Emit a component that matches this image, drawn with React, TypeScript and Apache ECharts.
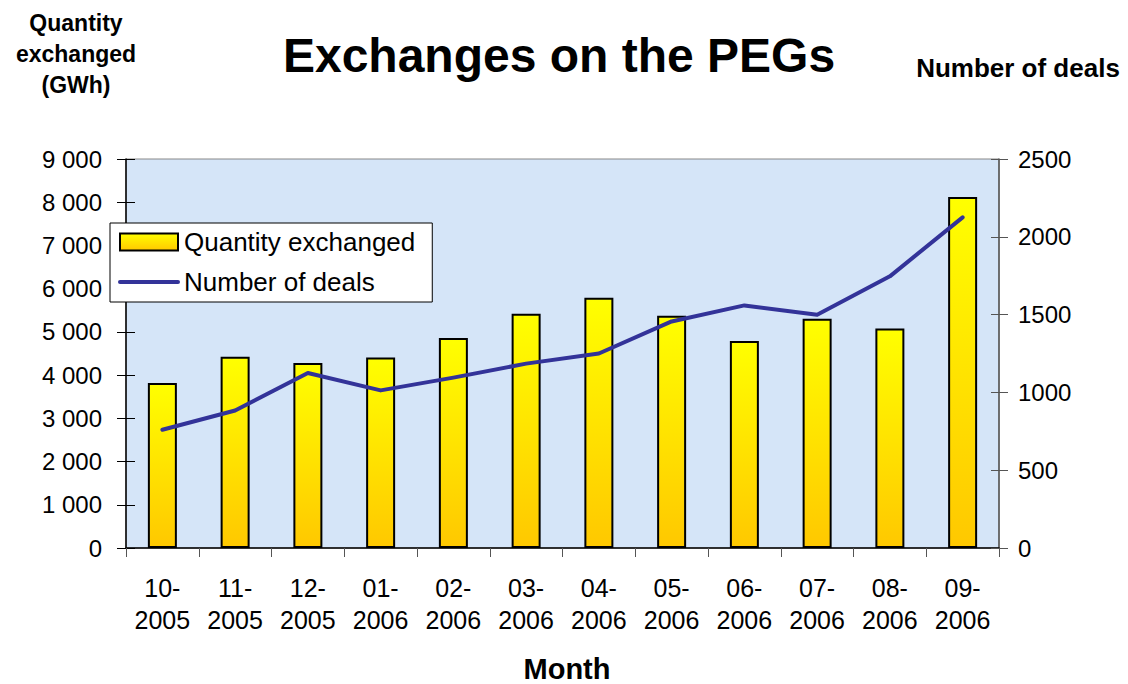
import React, { useEffect, useRef } from "react";
import * as echarts from "echarts";

const months = ["10-\n2005", "11-\n2005", "12-\n2005", "01-\n2006", "02-\n2006", "03-\n2006", "04-\n2006", "05-\n2006", "06-\n2006", "07-\n2006", "08-\n2006", "09-\n2006"];
const quantity = [3820, 4425, 4280, 4405, 4860, 5420, 5790, 5375, 4790, 5305, 5080, 8120];
const deals = [760, 884, 1125, 1013, 1095, 1185, 1250, 1456, 1559, 1499, 1746, 2125];

const FONT = "Liberation Sans, Arial, sans-serif";

const leftFmt = (v: number) => (v >= 1000 ? Math.floor(v / 1000) + " " + String(v % 1000).padStart(3, "0") : String(v));

export default function App() {
  const ref = useRef<HTMLDivElement>(null);
  useEffect(() => {
    const chart = echarts.init(ref.current!, null, { renderer: "svg" });
    chart.setOption({
      animation: false,
      backgroundColor: "#ffffff",
      textStyle: { fontFamily: FONT },
      title: [
        { text: "Exchanges on the PEGs", left: 554, top: 26, textAlign: "center", textStyle: { fontSize: 48, fontWeight: "bold", color: "#000", fontFamily: FONT } },
        { text: "Quantity\nexchanged\n(GWh)", left: 71, top: 2, textAlign: "center", textStyle: { fontSize: 23, fontWeight: "bold", color: "#000", lineHeight: 31, fontFamily: FONT } },
        { text: "Number of deals", left: 1013, top: 50, textAlign: "center", textStyle: { fontSize: 26, fontWeight: "bold", color: "#000", fontFamily: FONT } },
        { text: "Month", left: 562, top: 649, textAlign: "center", textStyle: { fontSize: 29, lineHeight: 30, fontWeight: "bold", color: "#000", fontFamily: FONT } },
      ],
      legend: {
        orient: "vertical",
        left: 110,
        top: 223,
        backgroundColor: "#ffffff",
        borderColor: "#000",
        borderWidth: 1,
        borderRadius: 0,
        padding: [6, 17, 7, 8],
        itemWidth: 58,
        itemHeight: 17,
        itemGap: 14,
        textStyle: { fontSize: 26, color: "#000", fontFamily: FONT, padding: [0, 0, 0, 1] },
        data: [
          { name: "Quantity exchanged", icon: "rect" },
          {
            name: "Number of deals",
            itemStyle: { color: "transparent", borderWidth: 0, opacity: 0 },
            lineStyle: { color: "#333399", width: 4, cap: "round" },
          },
        ],
      },
      grid: {
        left: 126,
        right: 129,
        top: 159,
        bottom: 136,
        show: true,
        backgroundColor: "#d5e5f8",
        borderColor: "#888",
        borderWidth: 1,
      },
      xAxis: {
        type: "category",
        data: months,
        axisLine: { lineStyle: { color: "#000", width: 1.5 } },
        axisTick: { show: true, length: 9, interval: 0, lineStyle: { color: "#555" } },
        axisLabel: { fontSize: 25, color: "#000", lineHeight: 32, margin: 24, interval: 0, fontFamily: FONT },
      },
      yAxis: [
        {
          type: "value",
          min: 0,
          max: 9000,
          interval: 1000,
          axisLine: { show: true, lineStyle: { color: "#000", width: 1.5 } },
          axisTick: { show: true, length: 9, lineStyle: { color: "#000" } },
          splitLine: { show: false },
          axisLabel: { fontSize: 24, color: "#000", margin: 24, fontFamily: FONT, formatter: leftFmt },
        },
        {
          type: "value",
          min: 0,
          max: 2500,
          interval: 500,
          position: "right",
          axisLine: { show: true, lineStyle: { color: "#555", width: 1.5 } },
          axisTick: { show: true, length: 9, lineStyle: { color: "#555" } },
          splitLine: { show: false },
          axisLabel: { fontSize: 24, color: "#000", margin: 19, fontFamily: FONT, formatter: (v: number) => String(v) },
        },
        {
          type: "value",
          min: 0,
          max: 9000,
          interval: 1000,
          position: "left",
          axisLine: { show: false },
          axisTick: { show: true, inside: true, length: 9, lineStyle: { color: "#000" } },
          splitLine: { show: false },
          axisLabel: { show: false },
        },
        {
          type: "value",
          min: 0,
          max: 2500,
          interval: 500,
          position: "right",
          axisLine: { show: false },
          axisTick: { show: true, inside: true, length: 8, lineStyle: { color: "#555" } },
          splitLine: { show: false },
          axisLabel: { show: false },
        },
      ],
      series: [
        {
          name: "Quantity exchanged",
          type: "bar",
          data: quantity,
          barWidth: 29,
          itemStyle: {
            color: new echarts.graphic.LinearGradient(0, 0, 0, 1, [
              { offset: 0, color: "#ffff00" },
              { offset: 1, color: "#ffc800" },
            ]),
            borderColor: "#000",
            borderWidth: 2,
          },
        },
        {
          name: "Number of deals",
          type: "line",
          yAxisIndex: 1,
          data: deals,
          symbol: "none",
          lineStyle: { color: "#333399", width: 4, cap: "round", join: "round" },
          itemStyle: { color: "#333399" },
        },
      ],
    });
    return () => chart.dispose();
  }, []);
  return <div ref={ref} style={{ width: 1128, height: 684, position: "absolute", left: 0, top: 0 }} />;
}
